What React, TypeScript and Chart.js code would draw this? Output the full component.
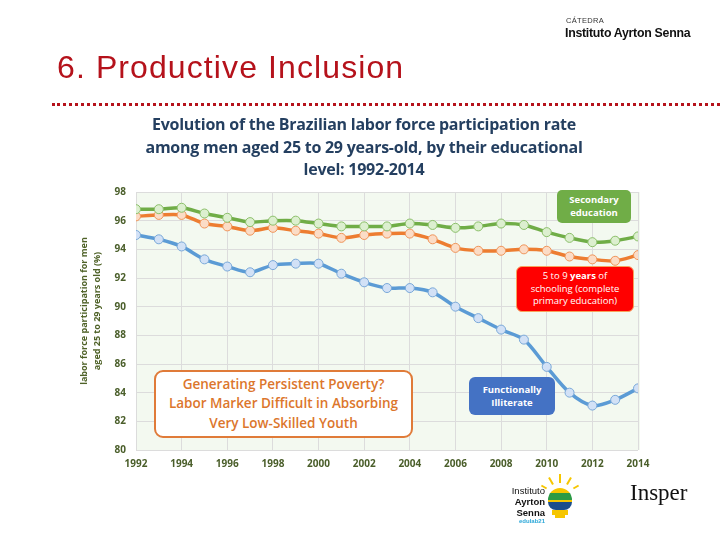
import React, { useEffect, useRef } from "react";
import { Chart, registerables } from "chart.js";

Chart.register(...registerables);

const years = [1992, 1993, 1994, 1995, 1996, 1997, 1998, 1999, 2000, 2001, 2002, 2003, 2004, 2005, 2006, 2007, 2008, 2009, 2010, 2011, 2012, 2013, 2014];
const secondary = [96.8, 96.8, 96.9, 96.5, 96.2, 95.9, 96.0, 96.0, 95.8, 95.6, 95.6, 95.6, 95.8, 95.7, 95.5, 95.6, 95.8, 95.7, 95.2, 94.8, 94.5, 94.6, 94.9];
const primary = [96.3, 96.4, 96.4, 95.8, 95.6, 95.3, 95.5, 95.3, 95.1, 94.8, 95.0, 95.1, 95.1, 94.7, 94.1, 93.9, 93.9, 94.0, 93.9, 93.5, 93.3, 93.2, 93.6];
const illiterate = [95.0, 94.7, 94.2, 93.3, 92.8, 92.4, 92.9, 93.0, 93.0, 92.3, 91.7, 91.3, 91.3, 91.0, 90.0, 89.2, 88.4, 87.7, 85.8, 84.0, 83.1, 83.5, 84.3];
const yTicks = [80, 82, 84, 86, 88, 90, 92, 94, 96, 98];
const xTicks = [1992, 1994, 1996, 1998, 2000, 2002, 2004, 2006, 2008, 2010, 2012, 2014];

const tickColor = "#4a5e2a";
const tickFont = { family: "'Open Sans', sans-serif", size: 10, weight: "bold" as const };

const bgPlugin = {
  id: "plotBg",
  beforeDraw(chart: any) {
    const { ctx, chartArea } = chart;
    ctx.save();
    ctx.fillStyle = "#f3f9f0";
    ctx.fillRect(chartArea.left, chartArea.top, chartArea.right - chartArea.left + 2, chartArea.bottom - chartArea.top);
    ctx.restore();
  },
};

function ChartCanvas() {
  const ref = useRef<HTMLCanvasElement | null>(null);
  useEffect(() => {
    if (!ref.current) return;
    const mk = (vals: number[]) => vals.map((v, i) => ({ x: years[i], y: v }));
    const common = {
      borderWidth: 3.5,
      pointRadius: 4.5,
      pointBorderWidth: 1,
      tension: 0.3,
    };
    const chart = new Chart(ref.current, {
      type: "line",
      data: {
        datasets: [
          { ...common, label: "Secondary education", data: mk(secondary), borderColor: "#70ad47", pointBackgroundColor: "#dcefcf", pointBorderColor: "#8cc06a" },
          { ...common, label: "5 to 9 years of schooling", data: mk(primary), borderColor: "#ed7d31", pointBackgroundColor: "#fbdcc6", pointBorderColor: "#f0955a" },
          { ...common, label: "Functionally Illiterate", data: mk(illiterate), borderColor: "#5b9bd5", pointBackgroundColor: "#d2e1f6", pointBorderColor: "#7aa9d9" },
        ],
      },
      options: {
        responsive: false,
        animation: false,
        layout: { padding: { left: 106, right: 82, top: 192, bottom: 60 } },
        plugins: { legend: { display: false }, tooltip: { enabled: false }, title: { display: false } },
        scales: {
          x: {
            type: "linear",
            min: 1992,
            max: 2014,
            afterFit: (s: any) => { s.height = 30; },
            afterBuildTicks: (s: any) => { s.ticks = xTicks.map((v) => ({ value: v })); },
            grid: { color: "#dcdcdc", drawTicks: false, lineWidth: 1 },
            border: { display: false },
            ticks: { color: tickColor, font: tickFont, padding: 8, maxRotation: 0, callback: (v: any) => String(v) },
          },
          y: {
            min: 80,
            max: 98,
            afterFit: (s: any) => { s.width = 30; },
            afterBuildTicks: (s: any) => { s.ticks = yTicks.map((v) => ({ value: v })); },
            grid: { color: "#dcdcdc", drawTicks: false, lineWidth: 1 },
            border: { display: false },
            ticks: { color: tickColor, font: tickFont, padding: 10 },
          },
        },
      },
      plugins: [bgPlugin],
    } as any);
    return () => chart.destroy();
  }, []);
  return <canvas ref={ref} width={720} height={540} style={{ position: "absolute", left: 0, top: 0 }} />;
}

const abs = (s: React.CSSProperties): React.CSSProperties => ({ position: "absolute", ...s });
const calibri = "'Open Sans', 'Noto Sans', sans-serif";

export default function App() {
  return (
    <div style={{ position: "fixed", left: 0, top: 0, width: 720, height: 540, background: "#ffffff", overflow: "hidden", fontFamily: calibri }}>
      <ChartCanvas />
      {/* header */}
      <div style={abs({ left: 566, top: 16, fontSize: 7.5, color: "#333", fontFamily: "'Liberation Sans', Arial, sans-serif", letterSpacing: 0.3 })}>CÁTEDRA</div>
      <div style={abs({ left: 565, top: 25, fontSize: 13, fontWeight: "bold", color: "#111", fontFamily: "'Liberation Sans', Arial, sans-serif", whiteSpace: "nowrap", letterSpacing: -0.3, transform: "scaleX(0.95)", transformOrigin: "0 0" })}>Instituto Ayrton Senna</div>
      <div style={abs({ left: 57, top: 49, fontSize: 32, color: "#b5121b", fontFamily: "'Liberation Sans', Arial, sans-serif", whiteSpace: "nowrap", letterSpacing: 1.1 })}>6. Productive Inclusion</div>
      <div style={abs({ left: 52, top: 103, width: 668, borderTop: "3px dotted #b5121b" })} />
      {/* chart title */}
      <div style={abs({ left: 100, top: 113, width: 528, textAlign: "center", fontSize: 16, fontWeight: "bold", color: "#243f60", lineHeight: "22.5px", fontFamily: calibri, letterSpacing: -0.25 })}>
        Evolution of the Brazilian labor force participation rate<br />among men aged 25 to 29 years-old, by their educational<br />level: 1992-2014
      </div>
      {/* y axis title */}
      <div style={abs({ left: 92 - 100, top: 311 - 14, width: 200, height: 28, transform: "rotate(-90deg)", transformOrigin: "100px 14px", textAlign: "center", fontSize: 9, fontWeight: "bold", color: "#4f6228", lineHeight: "12.5px", whiteSpace: "nowrap" })}>
        labor force participation for men<br />aged 25 to 29 years old (%)
      </div>
      {/* annotations */}
      <div style={abs({ left: 557, top: 190, width: 74, height: 33, background: "#70ad47", borderRadius: 5, color: "#fff", fontSize: 9.5, fontWeight: "bold", textAlign: "center", lineHeight: "12.5px", display: "flex", alignItems: "center", justifyContent: "center", boxSizing: "border-box" })}>
        <span>Secondary<br />education</span>
      </div>
      <div style={abs({ left: 516, top: 266, width: 118, height: 46, background: "#ff0000", border: "1.5px solid #f7a35c", borderRadius: 6, color: "#fff", fontSize: 9.5, textAlign: "center", lineHeight: "12.5px", display: "flex", alignItems: "center", justifyContent: "center", boxSizing: "border-box" })}>
        <span>5 to 9 <b>years</b> of<br />schooling (complete<br />primary education)</span>
      </div>
      <div style={abs({ left: 469, top: 377, width: 86, height: 38, background: "#4472c4", borderRadius: 6, color: "#fff", fontSize: 9.5, fontWeight: "bold", textAlign: "center", lineHeight: "13px", display: "flex", alignItems: "center", justifyContent: "center", boxSizing: "border-box" })}>
        <span>Functionally<br />Illiterate</span>
      </div>
      <div style={abs({ left: 154, top: 370, width: 259, height: 68, background: "#ffffff", border: "2px solid #e07b39", borderRadius: 9, color: "#dc762c", fontSize: 13.5, fontWeight: 600, textAlign: "center", lineHeight: "19.5px", display: "flex", alignItems: "center", justifyContent: "center", boxSizing: "border-box", whiteSpace: "nowrap" })}>
        <span>Generating Persistent Poverty?<br />Labor Marker Difficult in Absorbing<br />Very Low-Skilled Youth</span>
      </div>
      {/* logos */}
      <div style={abs({ left: 490, top: 485, width: 55, textAlign: "right", fontFamily: "'Liberation Sans', Arial, sans-serif", fontSize: 9.5, lineHeight: "11px", color: "#111" })}>
        Instituto<br /><b>Ayrton</b><br /><b>Senna</b>
      </div>
      <div style={abs({ left: 505, top: 518, width: 40, textAlign: "right", fontFamily: "'Liberation Sans', Arial, sans-serif", fontSize: 6, fontWeight: "bold", color: "#2aa7d8" })}>edulab21</div>
      {/* bulb */}
      <div style={abs({ left: 548, top: 488, width: 24, height: 22, borderRadius: "12px 12px 8px 8px", overflow: "hidden", background: "linear-gradient(#f6c600 0 25%, #2c9a45 25% 55%, #f6c600 55% 65%, #1b4d8c 65% 100%)" })} />
      <div style={abs({ left: 552, top: 510, width: 16, height: 5, background: "#f6c600" })} />
      <div style={abs({ left: 555, top: 515, width: 10, height: 3, background: "#f6c600" })} />
      <div style={abs({ left: 559, top: 474, width: 2, height: 9, background: "#f6c600" })} />
      <div style={abs({ left: 550, top: 477, width: 2, height: 8, background: "#f6c600", transform: "rotate(-30deg)" })} />
      <div style={abs({ left: 568, top: 477, width: 2, height: 8, background: "#f6c600", transform: "rotate(30deg)" })} />
      <div style={abs({ left: 543, top: 484, width: 2, height: 6, background: "#f6c600", transform: "rotate(-60deg)" })} />
      <div style={abs({ left: 575, top: 484, width: 2, height: 6, background: "#f6c600", transform: "rotate(60deg)" })} />
      <div style={abs({ left: 630, top: 480, fontFamily: "'Liberation Serif', 'DejaVu Serif', serif", fontSize: 23, color: "#111", whiteSpace: "nowrap" })}>Insper</div>
    </div>
  );
}
